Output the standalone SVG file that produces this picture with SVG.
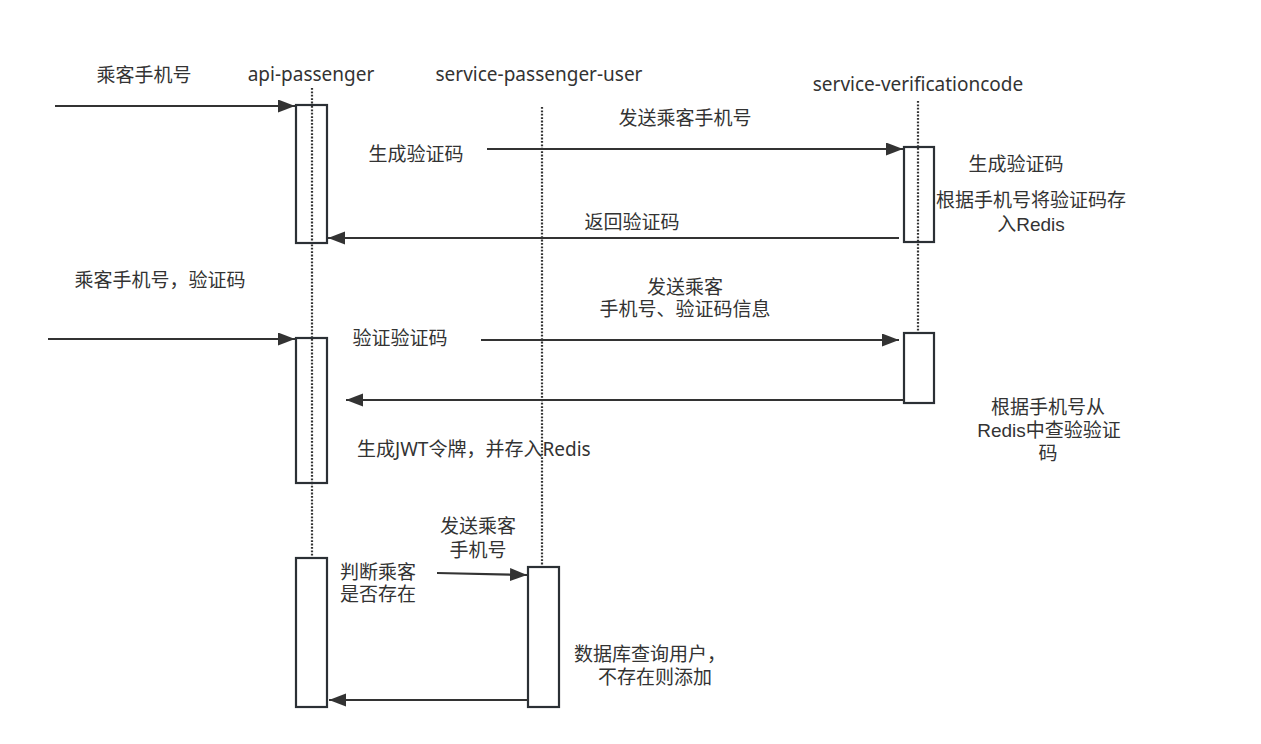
<svg xmlns="http://www.w3.org/2000/svg" width="1261" height="744" viewBox="0 0 1261 744">
<style>
text{font-family:"Noto Sans","Noto Sans CJK SC",sans-serif;font-size:19px;fill:#333;}
text.c{font-family:"Liberation Sans","Noto Sans CJK SC",sans-serif;}
.m{text-anchor:middle;}
.life{stroke:#333;stroke-width:2.2;stroke-dasharray:1.8 1.6;fill:none;}
.box{fill:#fff;stroke:#2b3035;stroke-width:2.2;}
.msg{stroke:#333;stroke-width:2.2;fill:none;marker-end:url(#ah);}
</style>
<defs>
<marker id="ah" markerUnits="userSpaceOnUse" markerWidth="18" markerHeight="14" refX="17" refY="6.5" orient="auto">
<path d="M0,0 L17,6.5 L0,13 Z" fill="#333"/>
</marker>
</defs>
<rect width="1261" height="744" fill="#fff"/>

<g id="api-passenger">
<text class="m" x="311" y="81">api-passenger</text>
<line class="life" x1="312" y1="88" x2="312" y2="558"/>
<rect class="box" x="296" y="105" width="31" height="138"/>
<rect class="box" x="296" y="338" width="31" height="145"/>
<rect class="box" x="296" y="558" width="31" height="149"/>
<line class="life" x1="312" y1="106" x2="312" y2="242"/>
<line class="life" x1="312" y1="339" x2="312" y2="482"/>
</g>

<g id="service-passenger-user">
<text class="m" x="539" y="81">service-passenger-user</text>
<line class="life" x1="542" y1="107" x2="542" y2="567"/>
<rect class="box" x="528" y="567" width="31" height="140"/>
</g>

<g id="service-verificationcode">
<text class="m" x="918" y="91">service-verificationcode</text>
<line class="life" x1="918" y1="101" x2="918" y2="333"/>
<rect class="box" x="904" y="147" width="30" height="95"/>
<line class="life" x1="918" y1="148" x2="918" y2="241"/>
<rect class="box" x="904" y="333" width="30" height="70"/>
</g>

<g id="connectors">
<line class="msg" x1="55" y1="106" x2="295" y2="106"/>
<line class="msg" x1="487" y1="149" x2="903" y2="149"/>
<line class="msg" x1="899" y1="238" x2="328" y2="238"/>
<line class="msg" x1="48" y1="339" x2="295" y2="339"/>
<line class="msg" x1="481" y1="340" x2="899" y2="340"/>
<line class="msg" x1="904" y1="400" x2="346" y2="400"/>
<line class="msg" x1="437" y1="573" x2="527" y2="575"/>
<line class="msg" x1="528" y1="700" x2="329" y2="700"/>
</g>

<g id="labels">
<text class="m" x="144" y="82">乘客手机号</text>
<text class="m" x="685" y="125">发送乘客手机号</text>
<text class="m" x="416" y="161">生成验证码</text>
<text class="m" x="632" y="229">返回验证码</text>
<text class="m" x="1016" y="171">生成验证码</text>
<text class="m c" x="1031" y="207">根据手机号将验证码存<tspan x="1031" dy="24">入Redis</tspan></text>
<text class="m" x="160" y="287">乘客手机号，验证码</text>
<text class="m c" x="685" y="294">发送乘客<tspan x="685" dy="22">手机号、验证码信息</tspan></text>
<text class="m" x="400" y="345">验证验证码</text>
<text x="357" y="456">生成JWT令牌，并存入Redis</text>
<text class="m c" x="1048" y="414">根据手机号从<tspan x="1049" dy="23">Redis中查验验证</tspan><tspan x="1048" dy="23">码</tspan></text>
<text class="m c" x="478" y="533">发送乘客<tspan x="478" dy="24">手机号</tspan></text>
<text class="m c" x="378" y="579">判断乘客<tspan x="378" dy="22">是否存在</tspan></text>
<text class="m c" x="650" y="661">数据库查询用户，<tspan x="655" dy="23">不存在则添加</tspan></text>
</g>
</svg>
